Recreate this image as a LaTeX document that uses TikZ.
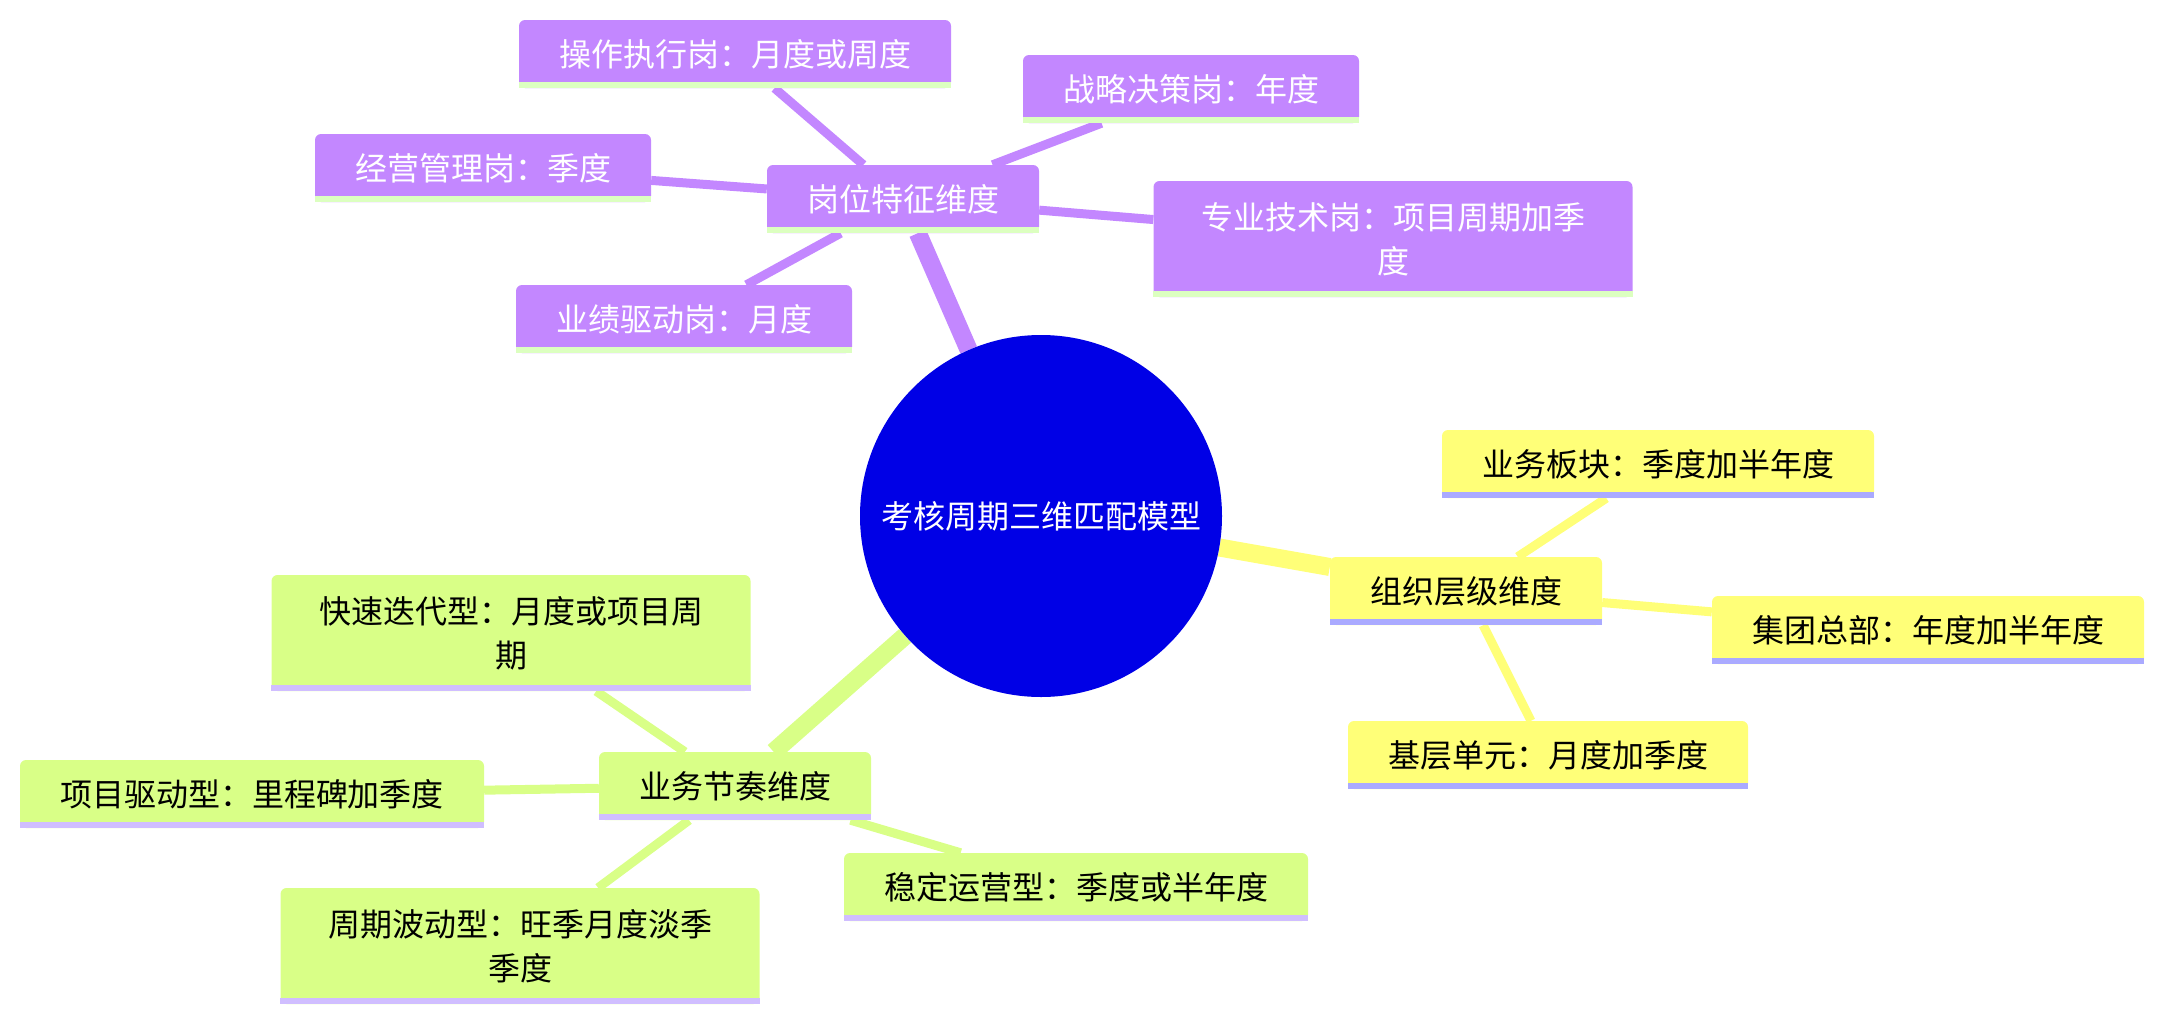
\documentclass[tikz,border=0pt]{standalone}
\usepackage{fontspec}
\setmainfont{Noto Sans CJK SC}
\usetikzlibrary{backgrounds}

\definecolor{rootblue}{HTML}{0000E6}
\definecolor{secP}{HTML}{C387FF}
\definecolor{secY}{HTML}{FFFF78}
\definecolor{secG}{HTML}{D9FF87}
\definecolor{ulP}{HTML}{DCFFC0}
\definecolor{ulY}{HTML}{AAAAFF}
\definecolor{ulG}{HTML}{D0BEFF}

\begin{document}
\begin{tikzpicture}[
    x=1pt, y=-1pt,
    font=\fontsize{32}{44}\selectfont,
    root/.style={circle, fill=rootblue, text=white, minimum size=362pt, inner sep=0pt},
    box/.style={rectangle, rounded corners=6pt, minimum height=68pt, inner xsep=40pt, inner ysep=0pt},
    boxP/.style={box, fill=secP, text=white},
    boxY/.style={box, fill=secY},
    boxG/.style={box, fill=secG},
    twoline/.style={text width=399pt, align=center, minimum height=116pt},
    hub/.style={line width=18pt},
    leaf/.style={line width=9pt}
]
    \useasboundingbox (0,0) rectangle (2164,1023);

    % 中心
    \node[root] (root) at (1041,516) {考核周期三维匹配模型};

    % 岗位特征维度
    \node[boxP] (pos) at (903,199) {岗位特征维度};
    \node[boxP] (op) at (735,54) {操作执行岗：月度或周度};
    \node[boxP] (strat) at (1191,89) {战略决策岗：年度};
    \node[boxP] (mgmt) at (483,168) {经营管理岗：季度};
    \node[boxP, twoline] (tech) at (1393,239) {专业技术岗：项目周期加季\\度};
    \node[boxP] (perf) at (684,319) {业绩驱动岗：月度};

    % 组织层级维度
    \node[boxY] (org) at (1466,591) {组织层级维度};
    \node[boxY] (seg) at (1658,464) {业务板块：季度加半年度};
    \node[boxY] (hq) at (1928,630) {集团总部：年度加半年度};
    \node[boxY] (base) at (1548,755) {基层单元：月度加季度};

    % 业务节奏维度
    \node[boxG] (rhythm) at (735,786) {业务节奏维度};
    \node[boxG, twoline] (fast) at (511,633) {快速迭代型：月度或项目周\\期};
    \node[boxG] (proj) at (252,794) {项目驱动型：里程碑加季度};
    \node[boxG, twoline] (cyc) at (520,946) {周期波动型：旺季月度淡季\\季度};
    \node[boxG] (stable) at (1076,887) {稳定运营型：季度或半年度};

    % 底边
    \foreach \n/\c in {pos/ulP, op/ulP, strat/ulP, mgmt/ulP, tech/ulP, perf/ulP,
                       org/ulY, seg/ulY, hq/ulY, base/ulY,
                       rhythm/ulG, fast/ulG, proj/ulG, cyc/ulG, stable/ulG}
        \fill[\c] (\n.south west) rectangle ([yshift=6pt]\n.south east);

    % 连线
    \begin{pgfonlayer}{background}
        \draw[hub, secP] (root) -- (pos);
        \draw[hub, secY] (root) -- (org);
        \draw[hub, secG] (root) -- (rhythm);
        \foreach \n in {op, strat, mgmt, tech, perf}
            \draw[leaf, secP] (pos) -- (\n);
        \foreach \n in {seg, hq, base}
            \draw[leaf, secY] (org) -- (\n);
        \foreach \n in {fast, proj, cyc, stable}
            \draw[leaf, secG] (rhythm) -- (\n);
    \end{pgfonlayer}
\end{tikzpicture}
\end{document}
